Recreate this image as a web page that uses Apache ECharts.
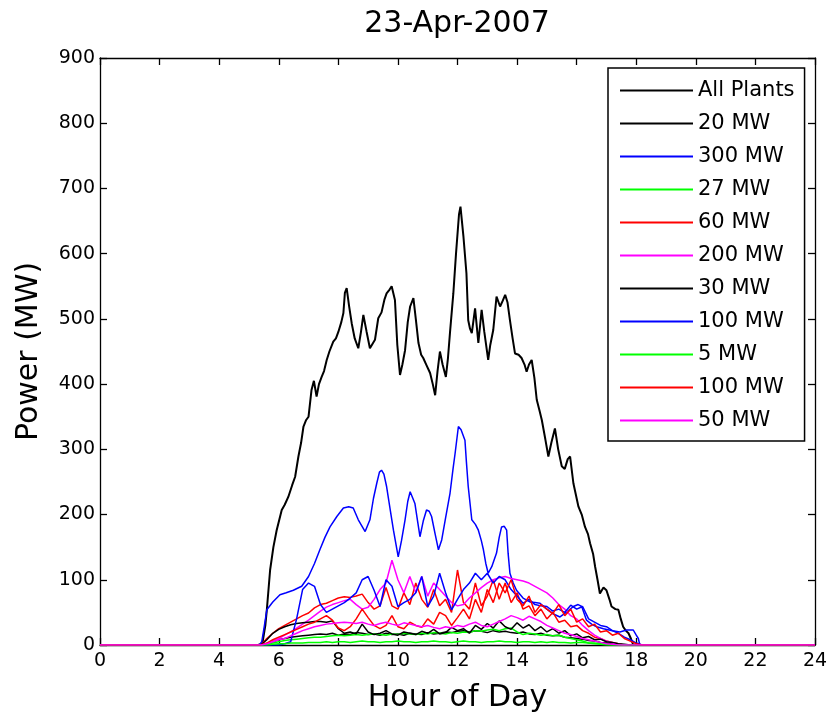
<!DOCTYPE html>
<html>
<head>
<meta charset="utf-8">
<script src="https://cdn.jsdelivr.net/npm/echarts@6/dist/echarts.min.js"></script>
<style>
  html, body { margin: 0; padding: 0; background: #fff; }
  #chart { width: 832px; height: 720px; }
</style>
</head>
<body>
<div id="chart"></div>
<script>
// Solar plant output, 23 April 2007 (MW by hour of day)

const titleText = '23-Apr-2007';
const xAxisName = 'Hour of Day';
const yAxisName = 'Power (MW)';
const xTicks = { min: 0, max: 24, step: 2 };
const yTicks = { min: 0, max: 900, step: 100 };

// Fleet total, sampled where the trace changes direction: [hour, MW]
const allPlants = [
  [0,0],[5.3,0],[5.45,2],[5.55,30],[5.6,54],[5.71,115],[5.82,150],[5.93,176],[6.1,207],[6.2,215],
  [6.32,227],[6.45,245],[6.55,258],[6.66,289],[6.75,310],[6.83,335],[6.92,345],[7.0,350],[7.1,391],[7.18,405],
  [7.27,381],[7.35,400],[7.44,411],[7.52,420],[7.61,437],[7.7,450],[7.83,465],[7.92,470],[8.0,480],[8.1,495],
  [8.17,509],[8.22,540],[8.28,547],[8.36,520],[8.45,493],[8.55,470],[8.67,455],[8.76,480],[8.84,506],[8.95,480],
  [9.06,455],[9.15,462],[9.23,468],[9.34,501],[9.45,510],[9.55,530],[9.62,539],[9.72,545],[9.79,550],[9.9,529],
  [9.98,460],[10.07,414],[10.15,430],[10.24,452],[10.33,495],[10.41,519],[10.52,532],[10.6,500],[10.69,463],[10.78,445],
  [10.85,440],[10.95,430],[11.08,417],[11.17,400],[11.25,383],[11.33,420],[11.41,450],[11.5,430],[11.61,411],[11.68,440],
  [11.75,480],[11.86,539],[11.95,600],[12.05,660],[12.1,672],[12.2,626],[12.3,570],[12.36,498],[12.42,485],[12.48,478],
  [12.59,516],[12.7,463],[12.81,514],[12.9,480],[13.03,437],[13.1,460],[13.2,483],[13.31,534],[13.43,519],[13.52,528],
  [13.6,537],[13.68,525],[13.76,498],[13.85,470],[13.93,447],[14.05,445],[14.15,440],[14.25,430],[14.32,419],[14.4,430],
  [14.49,437],[14.58,410],[14.66,376],[14.75,360],[14.83,345],[14.95,315],[15.05,289],[15.15,310],[15.27,332],[15.38,300],
  [15.5,274],[15.6,270],[15.7,285],[15.78,289],[15.89,248],[16.06,212],[16.17,200],[16.28,181],[16.38,170],[16.45,156],
  [16.55,140],[16.62,120],[16.7,100],[16.78,79],[16.9,88],[17.0,84],[17.1,70],[17.17,59],[17.3,55],[17.4,54],
  [17.48,40],[17.56,28],[17.65,22],[17.74,18],[17.82,10],[17.9,0],[24,0]
];

// Largest single plant: [hour, MW]
const plant300 = [
  [0,0],[5.35,0],[5.43,5],[5.52,30],[5.6,54],[5.8,66],[6.04,77],[6.25,80],[6.49,84],[6.77,90],
  [7.0,105],[7.2,125],[7.38,146],[7.55,165],[7.72,181],[7.95,197],[8.17,210],[8.35,212],[8.5,210],[8.67,192],
  [8.9,174],[9.06,192],[9.18,225],[9.29,248],[9.38,265],[9.45,268],[9.53,262],[9.62,243],[9.75,205],[9.85,176],
  [10.01,135],[10.12,160],[10.24,192],[10.33,220],[10.41,235],[10.5,225],[10.57,217],[10.66,190],[10.74,166],[10.85,190],
  [10.96,207],[11.05,205],[11.13,197],[11.25,170],[11.36,146],[11.47,161],[11.6,195],[11.75,233],[11.85,270],[11.92,294],
  [12.03,335],[12.12,330],[12.25,314],[12.3,280],[12.36,243],[12.48,192],[12.6,185],[12.7,176],[12.8,160],[12.87,146],
  [12.95,125],[13.03,110],[13.15,120],[13.31,141],[13.4,165],[13.48,181],[13.57,182],[13.65,176],[13.7,140],[13.76,110],
  [13.87,95],[13.98,84],[14.2,72],[14.43,66],[14.6,65],[14.77,64],[15.0,55],[15.2,48],[15.44,43],[15.65,50],
  [15.89,59],[16.05,62],[16.17,59],[16.33,38],[16.5,32],[16.67,28],[16.9,25],[17.2,22],[17.45,20],[17.68,23],
  [17.9,23],[18.0,15],[18.07,10],[18.12,0],[24,0]
];

// Shared sampling hours for the smaller plants
const hours = [0,
  5.2,5.4,5.6,5.8,6.0,6.2,6.4,6.6,6.8,7.0,
  7.2,7.4,7.6,7.8,8.0,8.2,8.4,8.6,8.8,9.0,
  9.2,9.4,9.6,9.8,10.0,10.2,10.4,10.6,10.8,11.0,
  11.2,11.4,11.6,11.8,12.0,12.2,12.4,12.6,12.8,13.0,
  13.2,13.4,13.6,13.8,14.0,14.2,14.4,14.6,14.8,15.0,
  15.2,15.4,15.6,15.8,16.0,16.2,16.4,16.6,16.8,17.0,
  17.2,17.4,17.6,17.8,18.0,18.2,18.4,
  24];

const plant20 = [0,
  0,0,2,5,8,10,12,13,14,15,
  16,17,16,18,15,17,16,19,18,16,
  17,15,18,16,17,15,18,17,16,19,
  17,18,20,19,21,22,20,22,21,19,
  22,20,21,19,18,20,17,16,18,15,
  14,15,12,11,10,9,7,6,4,3,
  2,1,0,0,0,0,0,
  0];

const plant27 = [0,
  0,0,1,3,5,7,8,9,10,11,
  12,12,13,14,15,14,15,16,15,16,
  17,16,15,17,16,18,17,16,18,17,
  19,18,17,19,18,20,19,22,21,23,
  24,22,25,26,20,16,18,17,15,16,
  14,15,12,10,8,6,3,2,1,0,
  0,0,0,0,0,0,0,
  0];

const plant60 = [0,
  0,0,10,18,25,30,35,40,45,49,
  57,62,64,68,72,74,73,75,78,65,
  55,60,88,60,55,80,62,95,70,58,
  85,60,70,50,115,65,55,95,60,75,
  100,70,95,65,80,55,60,45,55,40,
  50,35,38,28,30,22,18,12,10,6,
  4,2,0,0,0,0,0,
  0];

const plant200 = [0,
  0,0,2,6,10,15,20,26,32,38,
  45,52,58,62,65,68,70,62,55,58,
  70,85,95,130,100,80,105,80,105,75,
  95,85,75,65,60,62,72,80,88,95,
  100,103,105,102,100,98,95,90,85,80,
  72,62,55,45,40,30,22,15,10,6,
  3,1,0,0,0,0,0,
  0];

const plant30 = [0,
  0,0,8,18,24,28,31,33,34,35,
  36,36,35,37,25,18,20,17,32,20,
  16,18,22,17,15,20,18,16,21,18,
  24,17,19,27,22,25,18,30,24,33,
  26,37,28,24,34,26,31,22,28,20,
  25,18,22,14,17,11,13,8,9,5,
  4,2,1,0,0,0,0,
  0];

const plant100a = [0,
  0,0,0,0,0,2,5,40,85,95,
  90,62,50,55,60,65,72,80,100,105,
  84,59,100,90,59,65,70,80,105,59,
  75,110,80,54,70,85,95,110,100,110,
  95,105,100,85,75,64,70,62,60,59,
  52,55,50,61,55,59,40,35,30,28,
  22,18,12,8,3,0,0,
  0];

const plant5 = [0,
  0,0,0,1,2,2,3,3,3,4,
  4,4,5,4,5,5,4,5,6,5,
  5,4,5,5,6,5,5,4,5,5,
  6,5,5,4,5,6,5,5,4,5,
  5,6,5,5,4,5,5,4,5,4,
  5,4,4,3,4,4,3,3,2,1,
  0,0,0,0,0,0,0,
  0];

const plant100b = [0,
  0,0,3,8,12,16,20,24,28,32,
  35,40,45,38,26,22,28,40,55,42,
  30,25,30,45,28,25,35,30,27,40,
  32,50,45,30,42,55,40,70,50,85,
  65,95,80,100,70,60,75,50,62,55,
  48,62,45,55,35,40,28,32,20,22,
  15,18,10,6,2,0,0,
  0];

const plant50 = [0,
  0,0,2,5,8,10,14,18,22,25,
  28,30,32,33,34,35,34,33,35,32,
  30,33,35,32,30,34,32,30,28,30,
  27,25,28,26,30,28,32,35,30,28,
  32,36,40,45,42,38,44,40,36,30,
  26,22,18,16,13,10,8,6,4,2,
  1,0,0,0,0,0,0,
  0];

const onHours = vals => hours.map((h, i) => [h, vals[i]]);

// Legend order and colours; the second "100 MW" carries a trailing space so both entries stay distinct
const seriesDefs = [
  { name: 'All Plants', color: '#000000', data: allPlants, width: 2 },
  { name: '20 MW',      color: '#000000', data: onHours(plant20) },
  { name: '300 MW',     color: '#0000ff', data: plant300 },
  { name: '27 MW',      color: '#00ff00', data: onHours(plant27) },
  { name: '60 MW',      color: '#ff0000', data: onHours(plant60) },
  { name: '200 MW',     color: '#ff00ff', data: onHours(plant200) },
  { name: '30 MW',      color: '#000000', data: onHours(plant30) },
  { name: '100 MW',     color: '#0000ff', data: onHours(plant100a) },
  { name: '5 MW',       color: '#00ff00', data: onHours(plant5) },
  { name: '100 MW ',    color: '#ff0000', data: onHours(plant100b) },
  { name: '50 MW',      color: '#ff00ff', data: onHours(plant50) }
];

const FONT = 'DejaVu Sans';
const chart = echarts.init(document.getElementById('chart'), null, { renderer: 'canvas' });

const frameAxis = {
  axisLine: { show: true, onZero: false, lineStyle: { color: '#000', width: 1.3 } },
  axisTick: { show: true, inside: true, length: 7, lineStyle: { color: '#000', width: 1.3 } },
  splitLine: { show: false }
};

chart.setOption({
  animation: false,
  backgroundColor: '#ffffff',
  title: {
    text: titleText,
    left: 457,
    top: 9,
    textAlign: 'center',
    padding: 0,
    textStyle: { fontFamily: FONT, fontSize: 30, fontWeight: 'normal', color: '#000' }
  },
  grid: { left: 100, right: 17, top: 58, bottom: 75, containLabel: false },
  legend: {
    orient: 'vertical',
    left: 608,
    top: 68,
    padding: [12, 10, 10, 12],
    icon: 'rect',
    itemWidth: 73,
    itemHeight: 2,
    itemGap: 12,
    selectedMode: false,
    backgroundColor: '#ffffff',
    borderColor: '#000',
    borderWidth: 1.5,
    textStyle: { fontFamily: FONT, fontSize: 21, lineHeight: 21, color: '#000' },
    data: seriesDefs.map(s => ({ name: s.name, itemStyle: { color: s.color } }))
  },
  xAxis: [
    Object.assign({
      type: 'value', position: 'bottom', min: xTicks.min, max: xTicks.max, interval: xTicks.step,
      name: xAxisName, nameLocation: 'middle', nameGap: 38,
      nameTextStyle: { fontFamily: FONT, fontSize: 30, color: '#000' },
      axisLabel: { fontFamily: FONT, fontSize: 19, color: '#000', margin: 7 }
    }, frameAxis),
    Object.assign({
      type: 'value', position: 'top', min: xTicks.min, max: xTicks.max, interval: xTicks.step,
      axisLabel: { show: false }
    }, frameAxis)
  ],
  yAxis: [
    Object.assign({
      type: 'value', position: 'left', min: yTicks.min, max: yTicks.max, interval: yTicks.step,
      name: yAxisName, nameLocation: 'middle', nameGap: 56, nameRotate: 90,
      nameTextStyle: { fontFamily: FONT, fontSize: 30, color: '#000' },
      axisLabel: { fontFamily: FONT, fontSize: 19, color: '#000', margin: 5 }
    }, frameAxis),
    Object.assign({
      type: 'value', position: 'right', min: yTicks.min, max: yTicks.max, interval: yTicks.step,
      axisLabel: { show: false }
    }, frameAxis)
  ],
  series: seriesDefs.map(s => ({
    name: s.name,
    type: 'line',
    data: s.data,
    symbol: 'none',
    showSymbol: false,
    clip: true,
    color: s.color,
    lineStyle: { color: s.color, width: s.width || 1.5 },
    emphasis: { disabled: true }
  }))
});
</script>
</body>
</html>
